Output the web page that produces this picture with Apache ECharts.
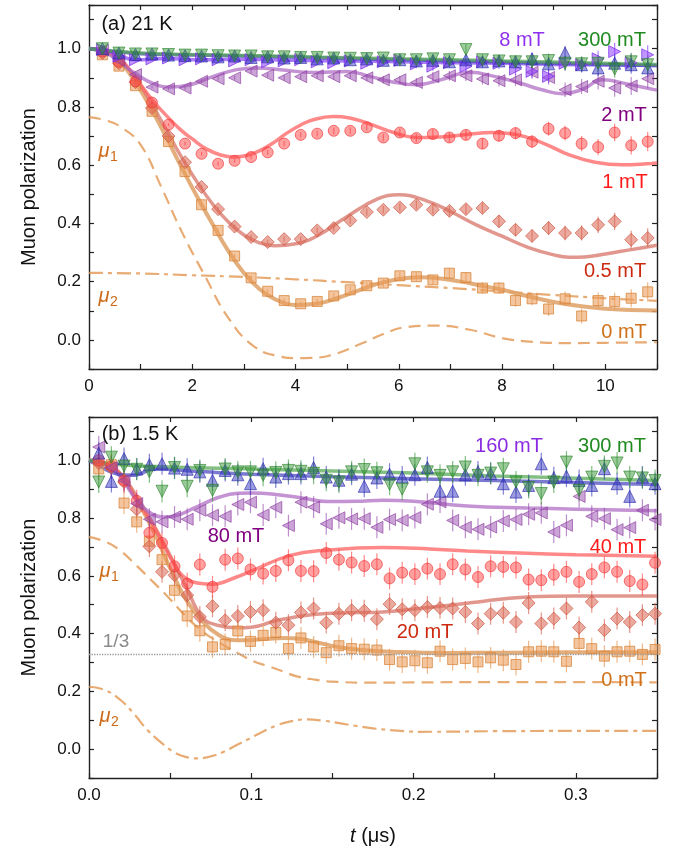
<!DOCTYPE html>
<html>
<head>
<meta charset="utf-8">
<script src="https://cdn.jsdelivr.net/npm/echarts@6/dist/echarts.min.js"></script>
<style>
  html, body { margin: 0; padding: 0; background: #fff; }
  #main { width: 673px; height: 848px; }
</style>
</head>
<body>
<div id="main"></div>
<script>
// ---------- panel (a) 21 K ----------
var tA = [0.26, 0.58, 0.90, 1.22, 1.54, 1.86, 2.18, 2.50, 2.82, 3.14, 3.46, 3.78, 4.10, 4.42, 4.74, 5.06, 5.38,
          5.70, 6.02, 6.34, 6.66, 6.98, 7.30, 7.62, 7.94, 8.26, 8.58, 8.90, 9.22, 9.54, 9.86, 10.18, 10.50, 10.82];
var errA = [0.004, 0.004, 0.005, 0.005, 0.005, 0.006, 0.006, 0.007, 0.007, 0.008, 0.008, 0.009, 0.009, 0.010, 0.011, 0.011, 0.012,
            0.013, 0.014, 0.015, 0.016, 0.017, 0.018, 0.019, 0.020, 0.021, 0.022, 0.024, 0.025, 0.026, 0.028, 0.030, 0.031, 0.033];
var a0mT = [0.979, 0.94, 0.873, 0.785, 0.681, 0.578, 0.464, 0.376, 0.288, 0.213, 0.167, 0.135, 0.124, 0.132, 0.151, 0.172, 0.186,
            0.195, 0.220, 0.217, 0.206, 0.229, 0.214, 0.178, 0.178, 0.135, 0.141, 0.106, 0.141, 0.082, 0.135, 0.132, 0.143, 0.165];
var a05mT = [0.985, 0.95, 0.885, 0.796, 0.70, 0.61, 0.525, 0.449, 0.389, 0.353, 0.336, 0.346, 0.346, 0.376, 0.384, 0.410, 0.439,
             0.447, 0.455, 0.464, 0.447, 0.443, 0.449, 0.453, 0.407, 0.378, 0.357, 0.384, 0.367, 0.367, 0.395, 0.407, 0.344, 0.350];
var a1mT = [0.99, 0.955, 0.888, 0.815, 0.739, 0.674, 0.639, 0.605, 0.615, 0.628, 0.644, 0.674, 0.704, 0.708, 0.718, 0.718, 0.730,
            0.695, 0.712, 0.693, 0.707, 0.695, 0.704, 0.674, 0.701, 0.710, 0.681, 0.725, 0.710, 0.674, 0.662, 0.712, 0.668, 0.681];
var a2mT = [0.995, 0.96, 0.911, 0.868, 0.862, 0.865, 0.888, 0.897, 0.900, 0.923, 0.909, 0.900, 0.904, 0.907, 0.904, 0.907, 0.900,
            0.893, 0.893, 0.884, 0.904, 0.907, 0.907, 0.896, 0.890, 0.893, 0.919, 0.901, 0.859, 0.870, 0.888, 0.865, 0.872, 0.897];
var a8mT = [0.997, 0.974, 0.962, 0.965, 0.968, 0.962, 0.965, 0.962, 0.958, 0.962, 0.955, 0.958, 0.962, 0.955, 0.952, 0.958, 0.950,
            0.955, 0.960, 0.948, 0.940, 0.952, 0.939, 0.955, 0.950, 0.930, 0.922, 0.905, 0.950, 0.945, 0.965, 0.990, 0.952, 0.979];
var aBlue = [1.0, 0.985, 0.98, 0.982, 0.978, 0.976, 0.975, 0.972, 0.975, 0.970, 0.972, 0.968, 0.970, 0.965, 0.968, 0.962, 0.965,
             0.960, 0.962, 0.958, 0.960, 0.955, 0.962, 0.955, 0.958, 0.955, 0.965, 0.948, 0.985, 0.945, 0.934, 0.950, 0.945, 0.934];
var a300mT = [1.0, 0.985, 0.982, 0.982, 0.98, 0.978, 0.978, 0.976, 0.975, 0.975, 0.972, 0.972, 0.970, 0.970, 0.968, 0.967, 0.966,
              0.968, 0.962, 0.962, 0.965, 0.962, 0.997, 0.962, 0.958, 0.955, 0.955, 0.959, 0.950, 0.948, 0.950, 0.930, 0.955, 0.945];

// fitted curves, [t, P]
var fitA0 = [[0,1.0],[0.3,0.99],[0.6,0.955],[0.9,0.885],[1.2,0.795],[1.5,0.695],[1.8,0.59],[2.1,0.49],[2.4,0.395],[2.7,0.305],
             [3.0,0.23],[3.3,0.175],[3.6,0.14],[4.0,0.12],[4.4,0.124],[4.8,0.143],[5.2,0.168],[5.6,0.193],[6.0,0.209],[6.4,0.215],
             [6.8,0.211],[7.2,0.2],[7.6,0.186],[8.0,0.172],[8.5,0.15],[9.0,0.13],[9.5,0.116],[10.0,0.107],[10.5,0.103],[11.0,0.101]];
var muA1 = [[0,0.765],[0.3,0.755],[0.6,0.733],[1.0,0.67],[1.4,0.525],[1.8,0.37],[2.25,0.218],[2.7,0.075],[3.2,-0.023],[3.7,-0.057],
            [4.0,-0.063],[4.3,-0.062],[4.7,-0.052],[5.3,-0.011],[5.7,0.02],[6.1,0.043],[6.7,0.049],[7.4,0.034],[8.0,0.006],
            [8.7,-0.008],[9.3,-0.011],[10.0,-0.01],[11.0,-0.008]];
var muA2 = [[0,0.23],[1,0.228],[2,0.222],[3,0.216],[4,0.208],[5,0.198],[6,0.188],[7,0.178],[8,0.166],[9,0.154],[10,0.143],[11,0.134]];
var fitA05 = [[0,1.0],[0.3,0.992],[0.6,0.962],[0.9,0.9],[1.2,0.815],[1.5,0.72],[1.8,0.625],[2.1,0.54],[2.4,0.465],[2.7,0.405],
              [3.0,0.36],[3.3,0.333],[3.6,0.323],[4.0,0.33],[4.4,0.355],[5.0,0.424],[5.6,0.485],[6.0,0.498],[6.5,0.48],[7.0,0.441],
              [7.5,0.395],[8.0,0.356],[8.5,0.318],[9.0,0.292],[9.3,0.284],[9.6,0.285],[10.0,0.295],[10.5,0.31],[11.0,0.325]];
var fitA1 = [[0,1.0],[0.3,0.993],[0.6,0.965],[0.9,0.9],[1.22,0.825],[1.5,0.77],[1.77,0.722],[2.0,0.69],[2.28,0.655],[2.55,0.635],
             [2.8,0.628],[3.05,0.633],[3.31,0.65],[3.6,0.68],[3.83,0.71],[4.1,0.738],[4.34,0.756],[4.73,0.767],[5.05,0.762],
             [5.38,0.745],[5.9,0.712],[6.34,0.695],[6.8,0.697],[7.31,0.705],[7.8,0.712],[8.27,0.705],[8.79,0.676],[9.3,0.635],
             [9.8,0.61],[10.33,0.601],[10.9,0.606],[11.0,0.607]];
var fitA2 = [[0,1.0],[0.3,0.99],[0.61,0.951],[0.93,0.911],[1.25,0.88],[1.57,0.868],[1.96,0.876],[2.41,0.905],[2.86,0.928],
             [3.25,0.934],[3.7,0.928],[4.34,0.918],[4.99,0.922],[5.44,0.905],[5.9,0.885],[6.34,0.876],[6.85,0.895],[7.37,0.919],
             [7.85,0.905],[8.34,0.882],[8.75,0.86],[9.17,0.845],[9.55,0.86],[9.95,0.893],[10.4,0.88],[10.9,0.861],[11.0,0.858]];
var fitA8 = [[0,1.0],[0.4,0.99],[0.9,0.962],[1.5,0.966],[2.2,0.962],[3,0.964],[4,0.96],[5,0.958],[6,0.955],[7,0.952],[8,0.95],
             [9,0.946],[10,0.944],[11,0.942]];
var fitABlue = [[0,1.0],[1,0.983],[2,0.978],[3,0.975],[4,0.971],[5,0.966],[6,0.962],[7,0.958],[8,0.954],[9,0.95],[10,0.946],[11,0.942]];
var fitA300 = [[0,1.0],[1,0.985],[2,0.98],[3,0.977],[4,0.973],[5,0.969],[6,0.965],[7,0.962],[8,0.958],[9,0.954],[10,0.95],[11,0.946]];

// ---------- panel (b) 1.5 K ----------
var tB = [0.0060, 0.0138, 0.0216, 0.0294, 0.0372, 0.0450, 0.0527, 0.0605, 0.0683, 0.0761, 0.0839, 0.0917, 0.0995, 0.1073, 0.1151,
          0.1229, 0.1306, 0.1384, 0.1462, 0.1540, 0.1618, 0.1696, 0.1774, 0.1852, 0.1930, 0.2008, 0.2085, 0.2163, 0.2241, 0.2319,
          0.2397, 0.2475, 0.2553, 0.2631, 0.2709, 0.2787, 0.2864, 0.2942, 0.3020, 0.3098, 0.3176, 0.3254, 0.3332, 0.3410, 0.3488];
var errB = 0.038;
var b0mT = [0.97, 0.985, 0.852, 0.787, 0.72, 0.656, 0.55, 0.461, 0.41, 0.354, 0.363, 0.409, 0.373, 0.394, 0.404, 0.348, 0.385, 0.354,
            0.334, 0.358, 0.348, 0.346, 0.343, 0.310, 0.302, 0.306, 0.299, 0.339, 0.310, 0.314, 0.302, 0.316, 0.308, 0.293, 0.337,
            0.339, 0.337, 0.304, 0.366, 0.348, 0.322, 0.337, 0.339, 0.328, 0.345];
var b20mT = [0.99, 0.975, 0.925, 0.83, 0.702, 0.614, 0.602, 0.533, 0.458, 0.495, 0.446, 0.461, 0.475, 0.481, 0.438, 0.429, 0.473, 0.487,
             0.438, 0.469, 0.481, 0.479, 0.450, 0.502, 0.484, 0.481, 0.492, 0.489, 0.487, 0.475, 0.435, 0.469, 0.472, 0.44, 0.506,
             0.435, 0.452, 0.487, 0.421, 0.51, 0.412, 0.452, 0.44, 0.464, 0.469];
var b40mT = [1.0, 0.98, 0.93, 0.86, 0.749, 0.714, 0.633, 0.573, 0.639, 0.562, 0.656, 0.660, 0.622, 0.608, 0.617, 0.654, 0.617, 0.616,
             0.679, 0.656, 0.646, 0.634, 0.640, 0.591, 0.611, 0.606, 0.625, 0.606, 0.640, 0.622, 0.596, 0.633, 0.631, 0.629, 0.587,
             0.585, 0.604, 0.614, 0.579, 0.606, 0.629, 0.614, 0.582, 0.570, 0.645];
var b80mT = [1.046, 0.975, 0.93, 0.850, 0.796, 0.787, 0.804, 0.796, 0.827, 0.810, 0.806, 0.847, 0.855, 0.811, 0.837, 0.774, 0.855,
             0.838, 0.780, 0.801, 0.797, 0.798, 0.768, 0.795, 0.792, 0.802, 0.848, 0.856, 0.792, 0.768, 0.761, 0.769, 0.790, 0.795,
             0.813, 0.818, 0.752, 0.775, 0.875, 0.806, 0.798, 0.760, 0.767, 0.827, 0.795];
var b160mT = [1.025, 0.927, 1.006, 0.97, 0.985, 0.988, 0.973, 0.969, 0.96, 0.931, 0.965, 0.95, 0.919, 0.971, 0.942, 0.954, 0.954,
              0.975, 0.942, 0.931, 0.952, 0.910, 0.939, 0.952, 0.942, 0.95, 0.975, 0.893, 0.893, 0.950, 0.96, 0.954, 0.919, 0.89,
              0.913, 0.988, 0.94, 0.945, 0.93, 0.913, 0.971, 0.919, 0.875, 0.942, 0.919];
var b300mT = [0.925, 1.011, 0.98, 0.969, 0.96, 0.893, 0.975, 0.91, 0.965, 0.896, 0.97, 0.96, 0.96, 0.948, 0.958, 0.965, 0.962,
              0.955, 0.931, 0.925, 0.96, 0.968, 0.957, 0.917, 0.9, 0.988, 0.96, 0.948, 0.96, 0.977, 0.948, 0.956, 0.971, 0.925,
              0.906, 0.885, 0.925, 0.994, 0.896, 0.942, 0.979, 0.991, 0.942, 0.939, 0.93];

var fitB0 = [[0,1.0],[0.01,0.985],[0.019,0.954],[0.029,0.867],[0.0395,0.758],[0.0497,0.63],[0.06,0.516],[0.0703,0.44],[0.08,0.395],
             [0.088,0.378],[0.097,0.377],[0.11,0.382],[0.12,0.385],[0.13,0.382],[0.14,0.37],[0.155,0.352],[0.17,0.342],[0.19,0.336],
             [0.22,0.333],[0.26,0.334],[0.3,0.335],[0.35,0.335]];
var muB1 = [[0,0.735],[0.0107,0.717],[0.019,0.689],[0.029,0.637],[0.0395,0.579],[0.0497,0.521],[0.06,0.458],[0.0703,0.406],
            [0.08,0.37],[0.091,0.335],[0.101,0.305],[0.11,0.288],[0.12,0.268],[0.128,0.252],[0.14,0.24],[0.149,0.234],[0.175,0.23],
            [0.2,0.231],[0.25,0.232],[0.3,0.232],[0.35,0.231]];
var muB2 = [[0,0.216],[0.0097,0.205],[0.0194,0.17],[0.028,0.12],[0.036,0.066],[0.044,0.025],[0.052,-0.009],[0.0595,-0.027],
            [0.0666,-0.032],[0.075,-0.025],[0.083,-0.009],[0.091,0.014],[0.099,0.037],[0.107,0.06],[0.116,0.083],[0.125,0.097],
            [0.134,0.103],[0.145,0.098],[0.155,0.089],[0.165,0.08],[0.175,0.072],[0.19,0.064],[0.204,0.06],[0.25,0.062],
            [0.3,0.063],[0.35,0.063]];
var fitB20 = [[0,1.0],[0.01,0.988],[0.02,0.95],[0.03,0.87],[0.04,0.775],[0.05,0.67],[0.06,0.56],[0.07,0.455],[0.08,0.428],
              [0.091,0.42],[0.1,0.422],[0.116,0.446],[0.14,0.467],[0.16,0.472],[0.181,0.475],[0.2,0.485],[0.233,0.505],
              [0.27,0.527],[0.3,0.53],[0.35,0.53]];
var fitB40 = [[0,1.0],[0.01,0.99],[0.02,0.945],[0.029,0.865],[0.04,0.77],[0.053,0.635],[0.06,0.59],[0.068,0.574],[0.076,0.571],
              [0.091,0.596],[0.101,0.619],[0.124,0.671],[0.147,0.689],[0.181,0.698],[0.21,0.693],[0.233,0.686],[0.27,0.678],
              [0.3,0.673],[0.35,0.668]];
var fitB80 = [[0,1.0],[0.01,0.985],[0.019,0.945],[0.029,0.865],[0.0395,0.812],[0.046,0.804],[0.052,0.806],[0.066,0.838],
              [0.08,0.872],[0.092,0.886],[0.101,0.887],[0.115,0.882],[0.131,0.87],[0.147,0.857],[0.165,0.858],[0.181,0.862],
              [0.2,0.858],[0.233,0.842],[0.27,0.835],[0.3,0.831],[0.35,0.825]];
var fitB160 = [[0,1.0],[0.008,0.975],[0.018,0.952],[0.027,0.948],[0.041,0.97],[0.05,0.968],[0.072,0.96],[0.1,0.952],[0.15,0.943],
               [0.2,0.936],[0.25,0.93],[0.3,0.923],[0.35,0.916]];
var fitB300 = [[0,1.0],[0.02,0.985],[0.05,0.977],[0.1,0.97],[0.15,0.963],[0.2,0.956],[0.25,0.946],[0.3,0.938],[0.35,0.93]];

var FONT = '"Liberation Sans", Arial, Helvetica, sans-serif';

function pairs(ts, vs) {
  return ts.map(function (t, i) { return [t, vs[i]]; });
}

function errBars(ts, vs, err, color, xi, yi) {
  return {
    type: 'custom', xAxisIndex: xi, yAxisIndex: yi, z: 3, silent: true,
    data: ts.map(function (t, i) { return [t, vs[i], Array.isArray(err) ? err[i] : err]; }),
    encode: { x: 0, y: 1 },
    renderItem: function (params, api) {
      var x = api.value(0), y = api.value(1), e = api.value(2);
      var p1 = api.coord([x, y - e]), p2 = api.coord([x, y + e]);
      return { type: 'line', shape: { x1: p1[0], y1: p1[1], x2: p2[0], y2: p2[1] },
               style: { stroke: color, lineWidth: 1.2 } };
    }
  };
}

function marks(ts, vs, symbol, rot, size, fill, stroke, xi, yi) {
  return {
    type: 'scatter', xAxisIndex: xi, yAxisIndex: yi, z: 4, silent: true,
    symbol: symbol, symbolRotate: rot, symbolSize: size,
    data: pairs(ts, vs),
    itemStyle: { color: fill, borderColor: stroke, borderWidth: 1 }
  };
}

function curve(data, color, width, xi, yi, dash) {
  return {
    type: 'line', xAxisIndex: xi, yAxisIndex: yi, z: 2, silent: true,
    data: data, showSymbol: false, symbol: 'none',
    smooth: 0.45,
    lineStyle: { color: color, width: width, type: dash || 'solid' }
  };
}

function yLabel(v) {
  var r = Math.round(v * 10);
  if (Math.abs(v * 10 - r) > 0.01 || r % 2 !== 0) return '';
  return (r / 10).toFixed(1);
}

var axisCol = '#222';
function xAx(grid, min, max, step, pos, fmt, name) {
  return {
    type: 'value', gridIndex: grid, min: min, max: max, interval: step, position: pos,
    axisLine: { show: true, onZero: false, lineStyle: { color: axisCol, width: 1.4 } },
    axisTick: { show: true, inside: true, length: 5, lineStyle: { color: axisCol, width: 1.2 } },
    axisLabel: { show: !!fmt, formatter: fmt, color: '#111', fontSize: 17, fontFamily: FONT, margin: 9 },
    splitLine: { show: false },
    name: name || '', nameLocation: 'middle', nameGap: 48,
    nameTextStyle: { color: '#111', fontSize: 20, fontFamily: FONT,
                     rich: { it: { fontStyle: 'italic', fontSize: 20, fontFamily: FONT, color: '#111' } } }
  };
}
function yAx(grid, pos, labels) {
  return {
    type: 'value', gridIndex: grid, min: -0.1, max: 1.15, interval: 0.1, position: pos,
    axisLine: { show: true, onZero: false, lineStyle: { color: axisCol, width: 1.4 } },
    axisTick: { show: true, inside: true, length: 5, lineStyle: { color: axisCol, width: 1.2 } },
    axisLabel: { show: labels, formatter: yLabel, color: '#111', fontSize: 17, fontFamily: FONT, margin: 8 },
    splitLine: { show: false },
    name: labels ? 'Muon polarization' : '', nameLocation: 'middle', nameGap: 50,
    nameTextStyle: { color: '#111', fontSize: 20, fontFamily: FONT }
  };
}

// colours
var C = {
  o:  { fill: 'rgba(234,156,90,0.72)',  line: 'rgba(214,128,50,0.9)',  fit: 'rgba(222,160,100,0.85)', dash: 'rgba(226,150,80,0.8)' },
  s:  { fill: 'rgba(220,104,84,0.7)',   line: 'rgba(204,86,66,0.85)',  fit: 'rgba(216,116,104,0.75)' },
  r:  { fill: 'rgba(255,64,64,0.62)',   line: 'rgba(240,50,50,0.8)',   fit: 'rgba(255,98,98,0.75)' },
  p:  { fill: 'rgba(150,72,172,0.62)',  line: 'rgba(140,60,160,0.8)',  fit: 'rgba(172,106,194,0.72)' },
  v:  { fill: 'rgba(140,60,255,0.68)',  line: 'rgba(120,40,230,0.85)', fit: 'rgba(140,82,240,0.75)' },
  b:  { fill: 'rgba(52,52,190,0.62)',   line: 'rgba(40,40,170,0.8)',   fit: 'rgba(70,70,190,0.72)' },
  g:  { fill: 'rgba(52,150,52,0.62)',   line: 'rgba(40,130,40,0.8)',   fit: 'rgba(80,165,80,0.7)' }
};

var series = [
  // panel a
  curve(muA1, C.o.dash, 2.2, 0, 0, [12, 7]),
  curve(muA2, C.o.dash, 2.2, 0, 0, [14, 5, 4, 5]),
  curve(fitA0, C.o.fit, 4, 0, 0),
  curve(fitA05, C.s.fit, 3.5, 0, 0),
  curve(fitA1, C.r.fit, 3.5, 0, 0),
  curve(fitA2, C.p.fit, 3.5, 0, 0),
  curve(fitA8, C.v.fit, 3.5, 0, 0),
  curve(fitABlue, C.b.fit, 3.5, 0, 0),
  curve(fitA300, C.g.fit, 3.5, 0, 0),
  errBars(tA, a0mT, errA, C.o.fill, 0, 0),
  errBars(tA, a05mT, errA, C.s.fill, 0, 0),
  errBars(tA, a1mT, errA, C.r.fill, 0, 0),
  errBars(tA, a2mT, errA, C.p.fill, 0, 0),
  errBars(tA, a8mT, errA, C.v.fill, 0, 0),
  errBars(tA, aBlue, errA, C.b.fill, 0, 0),
  errBars(tA, a300mT, errA, C.g.fill, 0, 0),
  marks(tA, a0mT, 'rect', 0, 10, C.o.fill, C.o.line, 0, 0),
  marks(tA, a05mT, 'diamond', 0, 13, C.s.fill, C.s.line, 0, 0),
  marks(tA, a1mT, 'circle', 0, 11, C.r.fill, C.r.line, 0, 0),
  marks(tA, a2mT, 'triangle', 90, 12, C.p.fill, C.p.line, 0, 0),
  marks(tA, a8mT, 'triangle', -90, 12, C.v.fill, C.v.line, 0, 0),
  marks(tA, aBlue, 'triangle', 0, 12, C.b.fill, C.b.line, 0, 0),
  marks(tA, a300mT, 'triangle', 180, 12, C.g.fill, C.g.line, 0, 0),

  // panel b
  curve(muB1, C.o.dash, 2.2, 2, 2, [12, 7]),
  (function () {
    var s = curve(muB2, C.o.dash, 2.2, 2, 2, [14, 5, 4, 5]);
    s.markLine = {
      silent: true, symbol: 'none', animation: false,
      lineStyle: { type: 'dotted', color: '#999', width: 1.3 },
      label: { show: false },
      data: [{ yAxis: 1 / 3 }]
    };
    return s;
  })(),
  curve(fitB0, C.o.fit, 4, 2, 2),
  curve(fitB20, C.s.fit, 3.5, 2, 2),
  curve(fitB40, C.r.fit, 3.5, 2, 2),
  curve(fitB80, C.p.fit, 3.5, 2, 2),
  curve(fitB160, C.b.fit, 3.5, 2, 2),
  curve(fitB300, C.g.fit, 3.5, 2, 2),
  errBars(tB, b0mT, errB, C.o.fill, 2, 2),
  errBars(tB, b20mT, errB, C.s.fill, 2, 2),
  errBars(tB, b40mT, errB, C.r.fill, 2, 2),
  errBars(tB, b80mT, errB, C.p.fill, 2, 2),
  errBars(tB, b160mT, errB, C.b.fill, 2, 2),
  errBars(tB, b300mT, errB, C.g.fill, 2, 2),
  marks(tB, b0mT, 'rect', 0, 10, C.o.fill, C.o.line, 2, 2),
  marks(tB, b20mT, 'diamond', 0, 13, C.s.fill, C.s.line, 2, 2),
  marks(tB, b40mT, 'circle', 0, 11, C.r.fill, C.r.line, 2, 2),
  marks(tB, b80mT, 'triangle', 90, 12, C.p.fill, C.p.line, 2, 2),
  marks(tB, b160mT, 'triangle', 0, 12, C.b.fill, C.b.line, 2, 2),
  marks(tB, b300mT, 'triangle', 180, 12, C.g.fill, C.g.line, 2, 2)
];

function txt(x, y, s, color, size, extra) {
  var st = { text: s, fill: color, font: (extra || '') + ' ' + size + 'px ' + FONT,
             textAlign: 'center', align: 'center', textVerticalAlign: 'middle', verticalAlign: 'middle' };
  return { type: 'text', x: x, y: y, z: 10, silent: true, style: st };
}
function mu(x, y, sub) {
  return [txt(x, y, 'μ', '#cc6a18', 20, 'italic'), txt(x + 10, y + 6, sub, '#cc6a18', 14)];
}

var graphics = [
  txt(137, 24, '(a) 21 K', '#111', 20),
  txt(522, 40, '8 mT', '#9030f0', 20),
  txt(612, 40, '300 mT', '#1f8a1f', 20),
  txt(624, 115, '2 mT', '#800080', 20),
  txt(625, 182, '1 mT', '#ff1a1a', 20),
  txt(615, 271, '0.5 mT', '#cc2a10', 20),
  txt(624, 332, '0 mT', '#d07018', 20),
  txt(140, 434, '(b) 1.5 K', '#111', 20),
  txt(509, 446, '160 mT', '#8a2be2', 20),
  txt(612, 446, '300 mT', '#1f8a1f', 20),
  txt(236, 536, '80 mT', '#800080', 20),
  txt(618, 547, '40 mT', '#ff1a1a', 20),
  txt(425, 632, '20 mT', '#cc2a10', 20),
  txt(624, 680, '0 mT', '#d07018', 20),
  txt(116, 642, '1/3', '#8a8a8a', 19)
].concat(mu(104, 151, '1'), mu(104, 296, '2'), mu(105, 571, '1'), mu(105, 716, '2'));

var chart = echarts.init(document.getElementById('main'));
chart.setOption({
  animation: false,
  backgroundColor: '#fff',
  textStyle: { fontFamily: FONT },
  grid: [
    { left: 89, top: 5, width: 568, height: 364 },
    { left: 89, top: 417, width: 568, height: 361 }
  ],
  xAxis: [
    xAx(0, 0, 11, 1, 'bottom', function (v) { return Math.round(v) % 2 === 0 ? String(Math.round(v)) : ''; }),
    xAx(0, 0, 11, 1, 'top', null),
    xAx(1, 0, 0.35, 0.05, 'bottom', function (v) {
      return Math.round(v * 100) % 10 === 0 ? v.toFixed(1) : '';
    }, '{it|t} (μs)'),
    xAx(1, 0, 0.35, 0.05, 'top', null)
  ],
  yAxis: [
    yAx(0, 'left', true),
    yAx(0, 'right', false),
    yAx(1, 'left', true),
    yAx(1, 'right', false)
  ],
  graphic: graphics,
  series: series
});
</script>
</body>
</html>
